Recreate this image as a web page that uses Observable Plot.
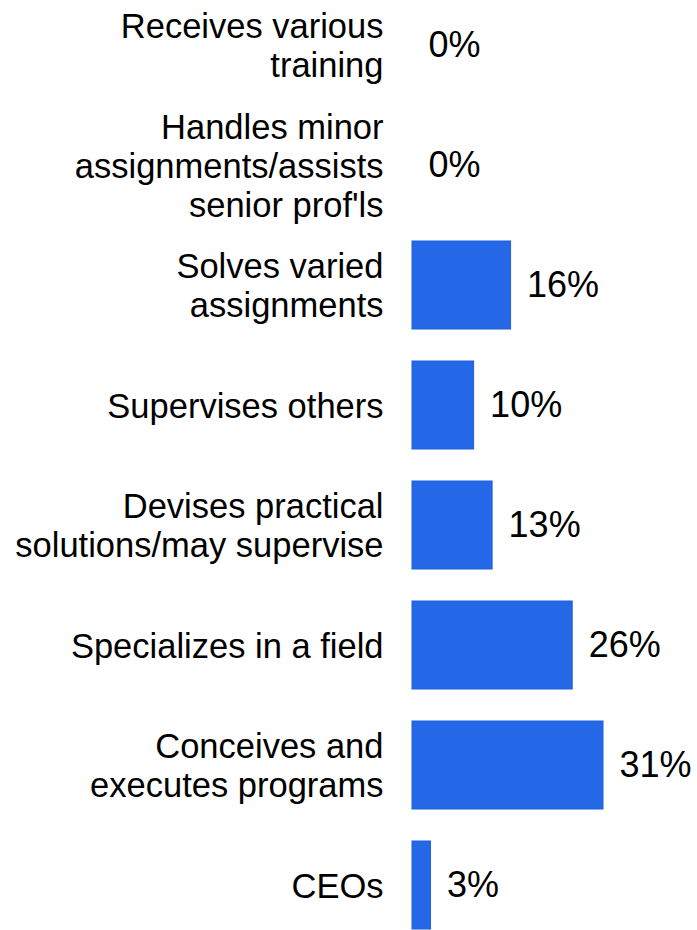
<!DOCTYPE html>
<html>
<head>
<meta charset="utf-8">
<script src="https://cdn.jsdelivr.net/npm/d3@7"></script>
<script src="https://cdn.jsdelivr.net/npm/@observablehq/plot@0.6"></script>
<style>
  html, body { margin: 0; padding: 0; background: #fff; }
  #chart svg { display: block; }
</style>
</head>
<body>
<div id="chart"></div>
<script>
const categories = [
  "Receives various\ntraining",
  "Handles minor\nassignments/assists\nsenior prof'ls",
  "Solves varied\nassignments",
  "Supervises others",
  "Devises practical\nsolutions/may supervise",
  "Specializes in a field",
  "Conceives and\nexecutes programs",
  "CEOs"
];
const values = [0, 0, 16, 10, 13, 26, 31, 3];

const data = categories.map((c, i) => ({category: c, value: values[i]}));

const chart = Plot.plot({
  width: 697,
  height: 930,
  marginLeft: 412,
  marginRight: 94,
  marginTop: 0,
  marginBottom: 0,
  style: {fontFamily: "'Liberation Sans', Arial, sans-serif", background: "#fff", color: "#000"},
  x: {domain: [0, 31], axis: null},
  y: {domain: categories, paddingInner: 0.27, paddingOuter: 0, label: null},
  marks: [
    Plot.barX(data, {x: "value", y: "category", fill: "#2468e8", stroke: "#1e5ed8", strokeWidth: 1}),
    Plot.text(data, {x: "value", y: "category", text: d => d.value + "%", textAnchor: "start", dx: 16, fontSize: 36, fill: "#000"}),
    Plot.axisY({tickSize: 0, tickPadding: 29, fontSize: 34.5, lineHeight: 1.13, tickFormat: d => d, label: null, fill: "#000"})
  ]
});
document.getElementById("chart").appendChild(chart);
</script>
</body>
</html>
